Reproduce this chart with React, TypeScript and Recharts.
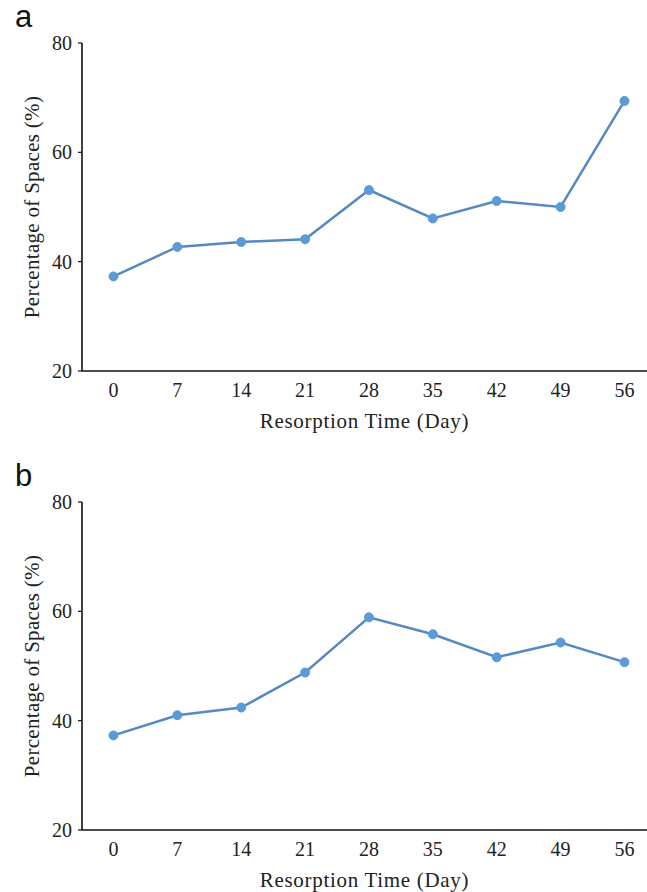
import React from "react"
import { LineChart, Line, XAxis, YAxis } from "recharts"

const days = [0, 7, 14, 21, 28, 35, 42, 49, 56]
const spacesA = [37.3, 42.7, 43.6, 44.1, 53.1, 47.9, 51.1, 50.0, 69.4]
const spacesB = [37.3, 41.0, 42.4, 48.8, 58.9, 55.8, 51.6, 54.3, 50.7]
const yTicks = [20, 40, 60, 80]

const SERIF = "'Liberation Serif', 'Times New Roman', serif"
const BLUE = "#5b9bd5"
const LINE = "#5689c4"

const W = 647
const H = 433

const YLabel = ({ viewBox }: any) => {
  const cx = 32
  const cy = viewBox.y + viewBox.height / 2
  return (
    <text
      x={cx}
      y={cy}
      transform={`rotate(-90 ${cx} ${cy})`}
      textAnchor="middle"
      dominantBaseline="central"
      fontFamily={SERIF}
      fontSize={21}
      letterSpacing={0.3}
      fill="#222"
    >
      Percentage of Spaces (%)
    </text>
  )
}

const Panel = ({ letter, values }: { letter: string; values: number[] }) => {
  const data = days.map((d, i) => ({ day: d, value: values[i] }))
  return (
    <div style={{ position: "relative", width: W, height: H }}>
      <LineChart width={W} height={H} data={data} margin={{ top: 43, right: 0, bottom: 11, left: 0 }}>
        <XAxis
          dataKey="day"
          type="number"
          domain={[-3.45, 58.47]}
          ticks={days}
          allowDataOverflow
          interval={0}
          tickLine={false}
          tickSize={4}
          tickMargin={8}
          height={51}
          axisLine={{ stroke: "#111", strokeWidth: 1.6 }}
          tick={{ fill: "#222", fontSize: 20, fontFamily: SERIF }}
          label={{
            value: "Resorption Time (Day)",
            position: "insideBottom",
            offset: -6,
            style: { fill: "#222", fontSize: 21, fontFamily: SERIF, letterSpacing: 0.7 },
          }}
        />
        <YAxis
          domain={[20, 80]}
          ticks={yTicks}
          width={82}
          tickSize={4}
          tickMargin={6}
          axisLine={{ stroke: "#111", strokeWidth: 1.6 }}
          tickLine={{ stroke: "#111", strokeWidth: 1.2 }}
          tick={{ fill: "#222", fontSize: 20, fontFamily: SERIF }}
          label={<YLabel />}
        />
        <Line
          type="linear"
          dataKey="value"
          stroke={LINE}
          strokeWidth={2.5}
          dot={{ r: 4.5, fill: BLUE, stroke: BLUE, strokeWidth: 1 }}
          isAnimationActive={false}
        />
      </LineChart>
      <div
        style={{
          position: "absolute",
          left: 15,
          top: 0,
          fontFamily: "'Liberation Sans', Arial, sans-serif",
          fontSize: 31,
          lineHeight: "34px",
          color: "#111",
        }}
      >
        {letter}
      </div>
    </div>
  )
}

export default function App() {
  return (
    <div style={{ position: "absolute", left: 0, top: 0, width: W, height: 892, background: "#fff" }}>
      <Panel letter="a" values={spacesA} />
      <div style={{ height: 26 }} />
      <Panel letter="b" values={spacesB} />
    </div>
  )
}
